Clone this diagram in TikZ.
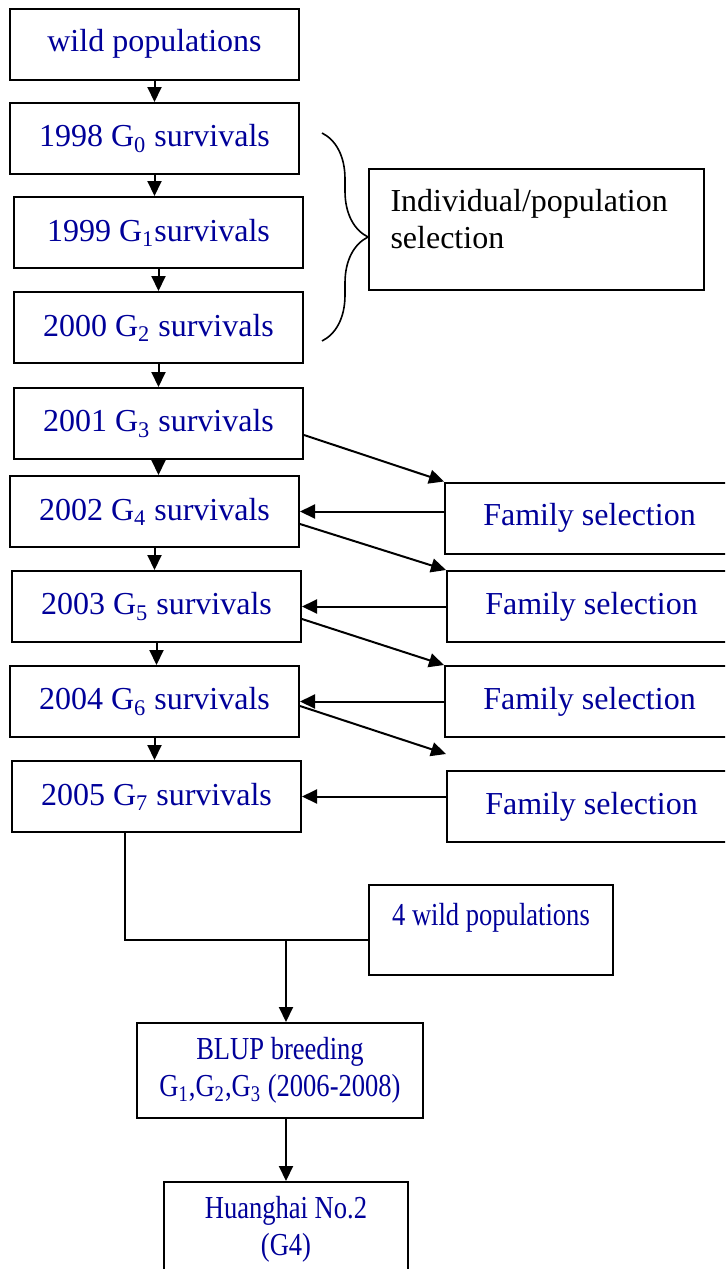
\documentclass[tikz,border=0pt]{standalone}
\usepackage{fontspec}
\setmainfont{Liberation Serif}
\newfontfamily\narrowserif[FakeStretch=0.83]{Liberation Serif}
\usetikzlibrary{arrows.meta,decorations.pathreplacing}
\definecolor{navyblue}{RGB}{0,0,153}
\begin{document}
\begin{tikzpicture}[
   stage/.style={draw,line width=1pt,minimum width=144.5pt,minimum height=35.5pt,
      inner sep=0pt,align=center,text=navyblue,font=\fontsize{16}{18.5}\selectfont},
   narrow/.style={font=\fontsize{16}{18.5}\narrowserif},
   flow/.style={line width=1pt,-{Triangle[length=7.5pt,width=7pt]}},
   link/.style={line width=1pt}]
   \begin{scope}[x=0.5pt,y=-0.5pt]
   \path[use as bounding box] (0,0) rectangle (725,1269);
   \clip (0,0) rectangle (725,1269);
   \draw(154.5,44) node[stage] (wild) {wild populations};
   \draw(154.5,138.5) node[stage] (g0) {1998 G\textsubscript{0} survivals};
   \draw(158.5,232.5) node[stage] (g1) {1999 G\textsubscript{1}survivals};
   \draw(158.5,327.5) node[stage] (g2) {2000 G\textsubscript{2} survivals};
   \draw(158.5,423.5) node[stage] (g3) {2001 G\textsubscript{3} survivals};
   \draw(154.5,511.5) node[stage] (g4) {2002 G\textsubscript{4} survivals};
   \draw(156.5,606.5) node[stage] (g5) {2003 G\textsubscript{5} survivals};
   \draw(154.5,701.5) node[stage] (g6) {2004 G\textsubscript{6} survivals};
   \draw(156.5,796.5) node[stage] (g7) {2005 G\textsubscript{7} survivals};
   \draw(536.5,229.5) node[stage,text=black,align=left,text width=146pt,
      minimum width=167.5pt,minimum height=60.5pt] (sel) {Individual/population\\selection\\[-8pt]~};
   \draw(589.5,518) node[stage] (fs1) {Family selection};
   \draw(591.5,606.5) node[stage] (fs2) {Family selection};
   \draw(589.5,701.5) node[stage] (fs3) {Family selection};
   \draw(591.5,806.5) node[stage] (fs4) {Family selection};
   \draw(491,930) node[stage,narrow,minimum width=122pt,minimum height=45pt] (wp4) {4 wild populations\\[-3pt]~};
   \draw(280,1070.5) node[stage,narrow,minimum width=143pt,minimum height=47.5pt] (blup)
      {BLUP breeding\\G\textsubscript{1},G\textsubscript{2},G\textsubscript{3} (2006-2008)};
   \draw(286,1229.5) node[stage,narrow,minimum width=122pt,minimum height=47.5pt] (hh) {Huanghai No.2\\(G4)};
   \coordinate (btop) at (322,133);
   \coordinate (bbot) at (322,341);
   \coordinate (loose) at (446,754);
   \coordinate (bend) at (125,940);
   \draw[line width=0.8pt,decorate,decoration={brace,amplitude=23pt}] (btop) -- (bbot);
   \foreach \a/\b in {wild/g0,g0/g1,g1/g2,g2/g3,g3/g4,g4/g5,g5/g6,g6/g7}
      \draw[flow] (\a.south) -- (\a.south |- \b.north);
   \draw[flow] ([yshift=-5.75pt]g3.east) -- (fs1.north west);
   \draw[flow] (fs1.west |- g4.east) -- (g4.east);
   \draw[flow] ([yshift=-6.25pt]g4.east) -- (fs2.north west);
   \draw[flow] (fs2.west) -- (g5.east);
   \draw[flow] ([yshift=-6.25pt]g5.east) -- (fs3.north west);
   \draw[flow] (fs3.west) -- (g6.east);
   \draw[flow] ([yshift=-2.25pt]g6.east) -- (loose);
   \draw[flow] (fs4.west |- g7.east) -- (g7.east);
   \draw[link] (g7.south -| bend) -- (bend) -- (bend -| wp4.west);
   \draw[flow] (bend -| hh.north) -- (blup.north -| hh.north);
   \draw[flow] (blup.south -| hh.north) -- (hh.north);
   \end{scope}
 \end{tikzpicture}
\end{document}
